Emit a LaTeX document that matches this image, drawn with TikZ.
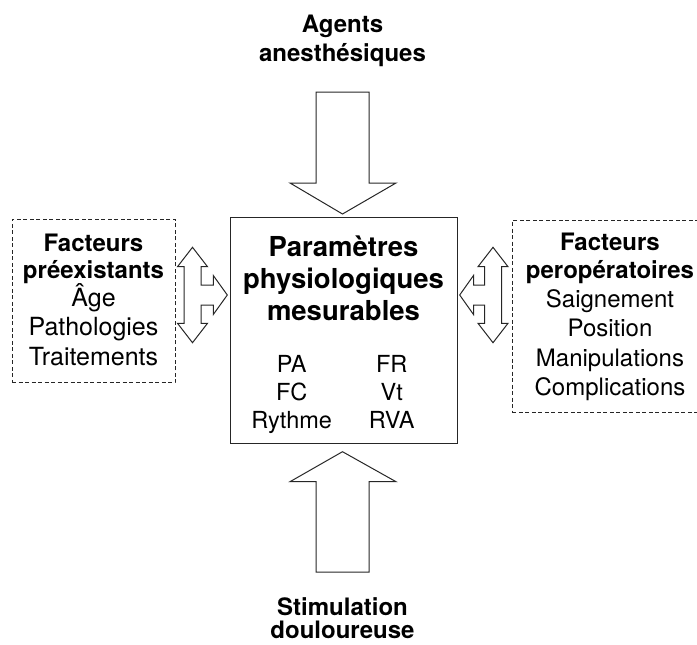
\documentclass[tikz,border=0pt]{standalone}
\usepackage{fontspec}
\setmainfont{TeX Gyre Heros}
\begin{document}
\begin{tikzpicture}[x=1pt,y=-1pt,
  ln/.style={draw=black!85, line width=1pt, line join=miter},
  dbox/.style={draw=black!85, line width=1pt, dash pattern=on 4pt off 2.5pt, inner sep=0pt},
  cbox/.style={draw=black!85, line width=1pt, inner sep=0pt},
  hb/.style={inner sep=0pt, anchor=base, font=\fontsize{24}{28}\selectfont\bfseries},
  hbig/.style={inner sep=0pt, anchor=base, font=\fontsize{27.5}{32}\selectfont\bfseries},
  rl/.style={inner sep=0pt, anchor=base, font=\fontsize{25}{28}\selectfont},
  rr/.style={inner sep=0pt, anchor=base, font=\fontsize{24}{28}\selectfont},
  rp/.style={inner sep=0pt, anchor=base, font=\fontsize{23.5}{28}\selectfont}]
\useasboundingbox (0,0) rectangle (697,645);

% boxes
\node[dbox, minimum width=163pt, minimum height=163.5pt] (leftbox) at (93.5,301) {};
\node[dbox, minimum width=195.7pt, minimum height=192pt] (rightbox) at (610.15,316.5) {};
\node[cbox, minimum width=227pt, minimum height=225.8pt] (centerbox) at (343.5,330.4) {};

% left box text
\node[hb] (l1) at (93.5,251.5) {Facteurs};
\node[hb] (l2) at (93.5,278) {préexistants};
\node[rl] (l3) at (93.5,306.5) {Âge};
\node[rl] (l4) at (93.5,335.5) {Pathologies};
\node[rl] (l5) at (93.5,365) {Traitements};

% right box text
\node[hb] (r1) at (610,250) {Facteurs};
\node[hb] (r2) at (610,278) {peropératoires};
\node[rr] (r3) at (610,307) {Saignement};
\node[rr] (r4) at (610,336.5) {Position};
\node[rr] (r5) at (610,366.5) {Manipulations};
\node[rr] (r6) at (610,395) {Complications};

% center box text
\node[hbig] (c1) at (343.5,256.7) {Paramètres};
\node[hbig] (c2) at (343.5,288.3) {physiologiques};
\node[hbig] (c3) at (343.5,320.5) {mesurables};
\node[rp] (p1) at (291.7,372) {PA};
\node[rp] (p2) at (291.7,400) {FC};
\node[rp] (p3) at (291.7,428) {Rythme};
\node[rp] (p4) at (391.7,372) {FR};
\node[rp] (p5) at (391.7,400) {Vt};
\node[rp] (p6) at (391.7,428) {RVA};

% top and bottom labels
\node[hb] (t1) at (342.5,32.3) {Agents};
\node[hb] (t2) at (342.5,61.7) {anesthésiques};
\node[hb] (b1) at (342.5,615) {Stimulation};
\node[hb] (b2) at (342.5,638.3) {douloureuse};

% top fat arrow
\draw[ln] (316,92) -- (369,92) -- (369,183) -- (396,183) -- (342.5,214)
  -- (290,183) -- (316,183) -- cycle;
% bottom fat arrow
\draw[ln] (316,572) -- (369,572) -- (369,481.7) -- (396,481.7) -- (342.5,451.7)
  -- (290,481.7) -- (316,481.7) -- cycle;

% left branched arrow
\draw[ln] (192.5,247.3) -- (207.5,266.7) -- (201,266.7) -- (201,285) -- (213.3,285)
  -- (213.3,275.5) -- (227.3,295) -- (213.3,314.5) -- (213.3,305) -- (201,305)
  -- (201,323.3) -- (207.5,323.3) -- (192.5,342.7) -- (177.5,323.3) -- (184,323.3)
  -- (184,266.7) -- (177.5,266.7) -- cycle;
% right branched arrow
\draw[ln] (493,247.3) -- (478,266.7) -- (484.5,266.7) -- (484.5,285) -- (473.5,285)
  -- (473.5,275.5) -- (459.7,295) -- (473.5,314.5) -- (473.5,305) -- (484.5,305)
  -- (484.5,323.3) -- (478,323.3) -- (493,342.7) -- (508,323.3) -- (501.5,323.3)
  -- (501.5,266.7) -- (508,266.7) -- cycle;
\end{tikzpicture}
\end{document}
